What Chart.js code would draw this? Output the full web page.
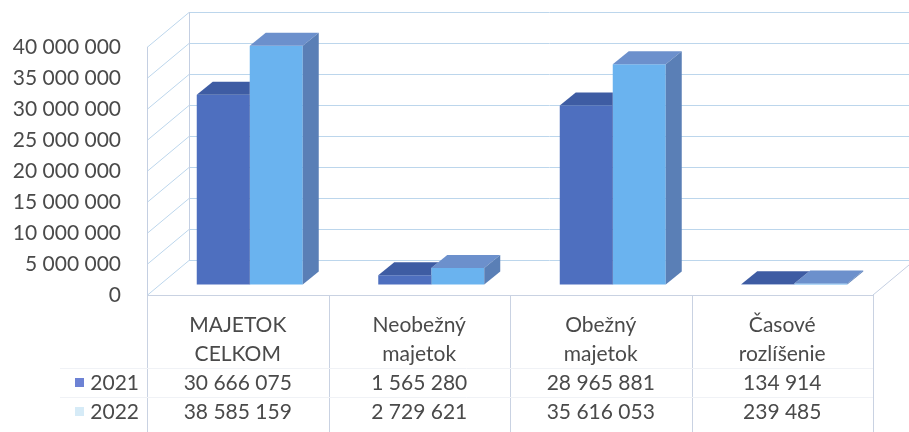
<!DOCTYPE html>
<html>
<head>
<meta charset="utf-8">
<script src="https://cdn.jsdelivr.net/npm/chart.js@4/dist/chart.umd.min.js"></script>
<style>
  html, body { margin: 0; padding: 0; background: #fff; }
  #wrap { width: 909px; height: 432px; }
</style>
</head>
<body>
<div id="wrap"><canvas id="graf" width="909" height="432"></canvas></div>
<script>
// údaje z grafu
const kategorie = [['MAJETOK', 'CELKOM'], ['Neobežný', 'majetok'], ['Obežný', 'majetok'], ['Časové', 'rozlíšenie']];
const roky = ['2021', '2022'];
const hodnoty2021 = [30666075, 1565280, 28965881, 134914];
const hodnoty2022 = [38585159, 2729621, 35616053, 239485];
const osY = [0, 5000000, 10000000, 15000000, 20000000, 25000000, 30000000, 35000000, 40000000];

const PISMO = 'Lato, "Open Sans", sans-serif';
const TEXT = '#4a4a4a';
const farby = [
  { predok: '#4e6fbf', vrch: '#3e5ca3', bok: '#35508c', znacka: '#6d82d4' },
  { predok: '#6ab3ef', vrch: '#6c90cc', bok: '#5a7fb6', znacka: '#d6ebf7' }
];
const hlbka = [42, -35];       // posun zadnej steny
const posunStlpcov = [12, -10]; // stlpce stoja trochu v hlbke
const hrubka = [16, -13];      // hlbka samotneho stlpca

const formatuj = v => String(v).replace(/\B(?=(\d{3})+(?!\d))/g, ' ');

function obrys(ctx, bar) {
  const { x, y, base, width } = bar.getProps(['x', 'y', 'base', 'width'], true);
  const L = x - width / 2, R = x + width / 2;
  ctx.moveTo(L, base);
  ctx.lineTo(L, y);
  ctx.lineTo(L + hrubka[0], y + hrubka[1]);
  ctx.lineTo(R + hrubka[0], y + hrubka[1]);
  ctx.lineTo(R + hrubka[0], base + hrubka[1]);
  ctx.lineTo(R, base);
  ctx.closePath();
}

// steny a mriezka (3D pohlad)
const steny = {
  id: 'steny',
  beforeDatasetsDraw(chart) {
    const { ctx, chartArea: a, scales: { y } } = chart;
    ctx.save();
    ctx.lineWidth = 1;
    ctx.strokeStyle = '#bcd6ec';
    osY.forEach(v => {
      const fy = Math.round(y.getPixelForValue(v)) + 0.5;
      ctx.beginPath();
      ctx.moveTo(a.left, fy);
      ctx.lineTo(a.left + hlbka[0], fy + hlbka[1]);
      ctx.lineTo(chart.width + 5, fy + hlbka[1]);
      ctx.stroke();
    });
    ctx.strokeStyle = '#c4cfe2';
    ctx.beginPath();
    ctx.moveTo(a.left + 0.5, a.top);
    ctx.lineTo(a.left + 0.5, a.bottom);
    ctx.moveTo(a.left + hlbka[0] + 0.5, a.top + hlbka[1]);
    ctx.lineTo(a.left + hlbka[0] + 0.5, a.bottom + hlbka[1]);
    ctx.moveTo(a.right, a.bottom);
    ctx.lineTo(a.right + hlbka[0], a.bottom + hlbka[1]);
    ctx.stroke();
    ctx.restore();
  },
  beforeDatasetDraw(chart) {
    chart.ctx.save();
    chart.ctx.translate(posunStlpcov[0], posunStlpcov[1]);
  },
  afterDatasetDraw(chart, args) {
    const ctx = chart.ctx;
    const f = farby[args.index];
    const dalsi = args.index < chart.data.datasets.length - 1 ? chart.getDatasetMeta(args.index + 1) : null;
    args.meta.data.forEach((bar, j) => {
      const { x, y, base, width } = bar.getProps(['x', 'y', 'base', 'width'], true);
      const L = x - width / 2, R = x + width / 2;
      ctx.save();
      if (dalsi) {
        // cast zakryta susednym (predsunutym) stlpcom
        ctx.beginPath();
        ctx.rect(-100, -100, chart.width + 200, chart.height + 200);
        obrys(ctx, dalsi.data[j]);
        ctx.clip('evenodd');
      }
      ctx.fillStyle = f.vrch;
      ctx.beginPath();
      ctx.moveTo(L, y);
      ctx.lineTo(R, y);
      ctx.lineTo(R + hrubka[0], y + hrubka[1]);
      ctx.lineTo(L + hrubka[0], y + hrubka[1]);
      ctx.closePath();
      ctx.fill();
      ctx.fillStyle = f.bok;
      ctx.beginPath();
      ctx.moveTo(R, y);
      ctx.lineTo(R + hrubka[0], y + hrubka[1]);
      ctx.lineTo(R + hrubka[0], base + hrubka[1]);
      ctx.lineTo(R, base);
      ctx.closePath();
      ctx.fill();
      ctx.restore();
    });
    ctx.restore();
  }
};

// tabulka udajov pod grafom
const tabulka = {
  id: 'tabulka',
  afterDraw(chart) {
    const { ctx, chartArea: a, scales: { x } } = chart;
    const krok = (a.right - a.left) / kategorie.length;
    ctx.save();
    ctx.strokeStyle = '#c9d2e2';
    ctx.lineWidth = 1;
    ctx.beginPath();
    ctx.moveTo(a.left, Math.round(a.bottom) + 0.5);
    ctx.lineTo(a.right, Math.round(a.bottom) + 0.5);
    for (let i = 0; i <= kategorie.length; i++) {
      const vx = Math.round(a.left + i * krok) + 0.5;
      ctx.moveTo(vx, a.bottom);
      ctx.lineTo(vx, chart.height);
    }
    ctx.stroke();
    ctx.strokeStyle = '#f0f2f6';
    ctx.beginPath();
    [368.5, 397.5].forEach(hy => { ctx.moveTo(60, hy); ctx.lineTo(a.right, hy); });
    ctx.stroke();

    ctx.font = '21px ' + PISMO;
    ctx.fillStyle = TEXT;
    ctx.textAlign = 'center';
    ctx.textBaseline = 'middle';
    kategorie.forEach((k, i) => {
      const cx = x.getPixelForValue(i);
      ctx.fillText(k[0], cx, 325);
      ctx.fillText(k[1], cx, 354);
      ctx.fillText(formatuj(hodnoty2021[i]), cx, 383);
      ctx.fillText(formatuj(hodnoty2022[i]), cx, 412);
    });
    ctx.textAlign = 'right';
    [383, 412].forEach((ry, j) => {
      ctx.fillStyle = farby[j].znacka;
      ctx.fillRect(75, ry - 5, 9, 9);
      ctx.fillStyle = TEXT;
      ctx.fillText(roky[j], 139, ry);
    });
    ctx.restore();
  }
};

new Chart(document.getElementById('graf'), {
  type: 'bar',
  data: {
    labels: kategorie,
    datasets: [
      { label: roky[0], data: hodnoty2021, backgroundColor: farby[0].predok },
      { label: roky[1], data: hodnoty2022, backgroundColor: farby[1].predok }
    ]
  },
  options: {
    responsive: false,
    animation: false,
    events: [],
    layout: { padding: { top: 47, right: 36, bottom: 137, left: 0 } },
    datasets: { bar: { categoryPercentage: 0.584, barPercentage: 1, clip: false } },
    plugins: { legend: { display: false }, tooltip: { enabled: false } },
    scales: {
      x: { display: false },
      y: {
        min: 0, max: 40000000,
        afterFit: s => { s.width = 147; },
        afterBuildTicks: s => { s.ticks = osY.map(v => ({ value: v })); },
        ticks: { padding: 26, color: TEXT, font: { family: PISMO, size: 21 }, callback: v => formatuj(v) },
        grid: { display: true, drawOnChartArea: false, drawTicks: false, color: 'rgba(0,0,0,0)' },
        border: { display: false }
      }
    }
  },
  plugins: [steny, tabulka]
});
</script>
</body>
</html>
